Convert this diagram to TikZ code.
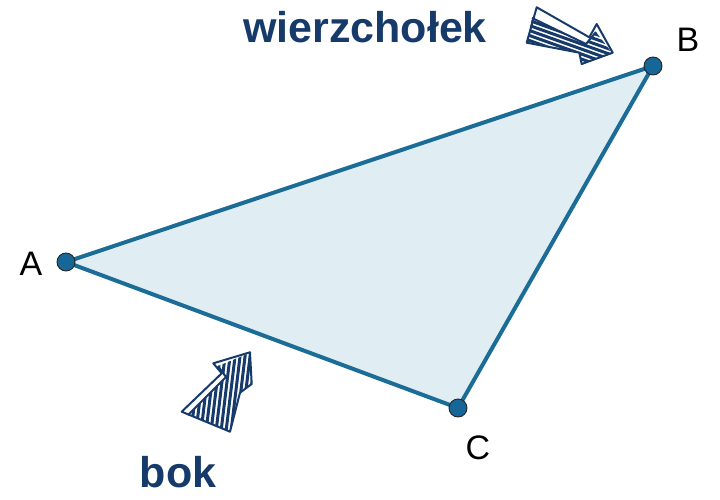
\documentclass[tikz,border=0pt]{standalone}
\usepackage{fontspec}
\setmainfont{Liberation Sans}
\usetikzlibrary{positioning}
\definecolor{navy}{RGB}{22,58,106}
\definecolor{edgeblue}{RGB}{27,108,150}
\definecolor{faceblue}{RGB}{224,238,244}
\definecolor{dotblue}{RGB}{22,102,152}

\begin{document}
\begin{tikzpicture}
		[x=1pt,y=-1pt,
		vertex/.style={circle,fill=dotblue,draw=black!85,line width=0.9pt,inner sep=0pt,minimum size=18pt},
		letter/.style={font=\fontsize{34}{40}\selectfont},
		word/.style={font=\fontsize{43}{50}\selectfont\bfseries,text=navy},
		trianglesides/.style={draw=edgeblue,line width=4pt,line join=round},
		arrowedge/.style={draw=navy,line width=2pt,line join=round},
		stripe/.style={navy,line width=3pt}]
		\useasboundingbox (0,0) rectangle (720,500);
		\coordinate (A) at (66,262);
		\coordinate (B) at (653,66);
		\coordinate (C) at (458,408);
		\fill[faceblue] (A) -- (B) -- (C) -- cycle;
		\draw[trianglesides] (A) -- (B) -- (C) -- cycle;
		\node[vertex] (vA) at (A) {};
		\node[vertex] (vB) at (B) {};
		\node[vertex] (vC) at (C) {};
		\node[letter] (lA) at (31,264) {A};
		\node[letter] (lB) at (688,40) {B};
		\node[letter] (lC) at (478,448) {C};
		\node[word] (vertexword) at (365,27) {wierzchołek};
		\node[word] (sideword) at (178,472) {bok};
		\fill[white] (536.7,7.3) -- (589.3,37.3) -- (596.7,24) -- (612.7,52.7)
			-- (581.7,64) -- (579.3,52.7) -- (526.7,42.7) -- cycle;
		\begin{scope}
			\clip (532,18) -- (586,44) -- (596,32) -- (612,53) -- (582,63)
				-- (579,52) -- (527,42) -- cycle;
			\foreach \y in {-40,-35,...,80}
				\draw[stripe] (500,\y) -- ++(140,50);
		\end{scope}
		\draw[arrowedge] (532,18) -- (586,44) -- (596,32);
		\draw[arrowedge] (536.7,7.3) -- (589.3,37.3) -- (596.7,24) -- (612.7,52.7)
			-- (581.7,64) -- (579.3,52.7) -- (526.7,42.7) -- cycle;
		\fill[white] (181.7,411.7) -- (221.7,373.3) -- (213.3,363.3) -- (250,352.3)
			-- (251.7,384) -- (240,392.7) -- (230,431.7) -- cycle;
		\begin{scope}
			\clip (188,415) -- (226,377) -- (218,366) -- (250,353) -- (251.7,384)
				-- (240,392.7) -- (230,431.7) -- cycle;
			\foreach \x in {150,155,...,270}
				\draw[stripe] (\x,440) -- ++(12,-100);
		\end{scope}
		\draw[arrowedge] (188,415) -- (226,377) -- (218,366);
		\draw[arrowedge] (181.7,411.7) -- (221.7,373.3) -- (213.3,363.3) -- (250,352.3)
			-- (251.7,384) -- (240,392.7) -- (230,431.7) -- cycle;
\end{tikzpicture}
\end{document}
